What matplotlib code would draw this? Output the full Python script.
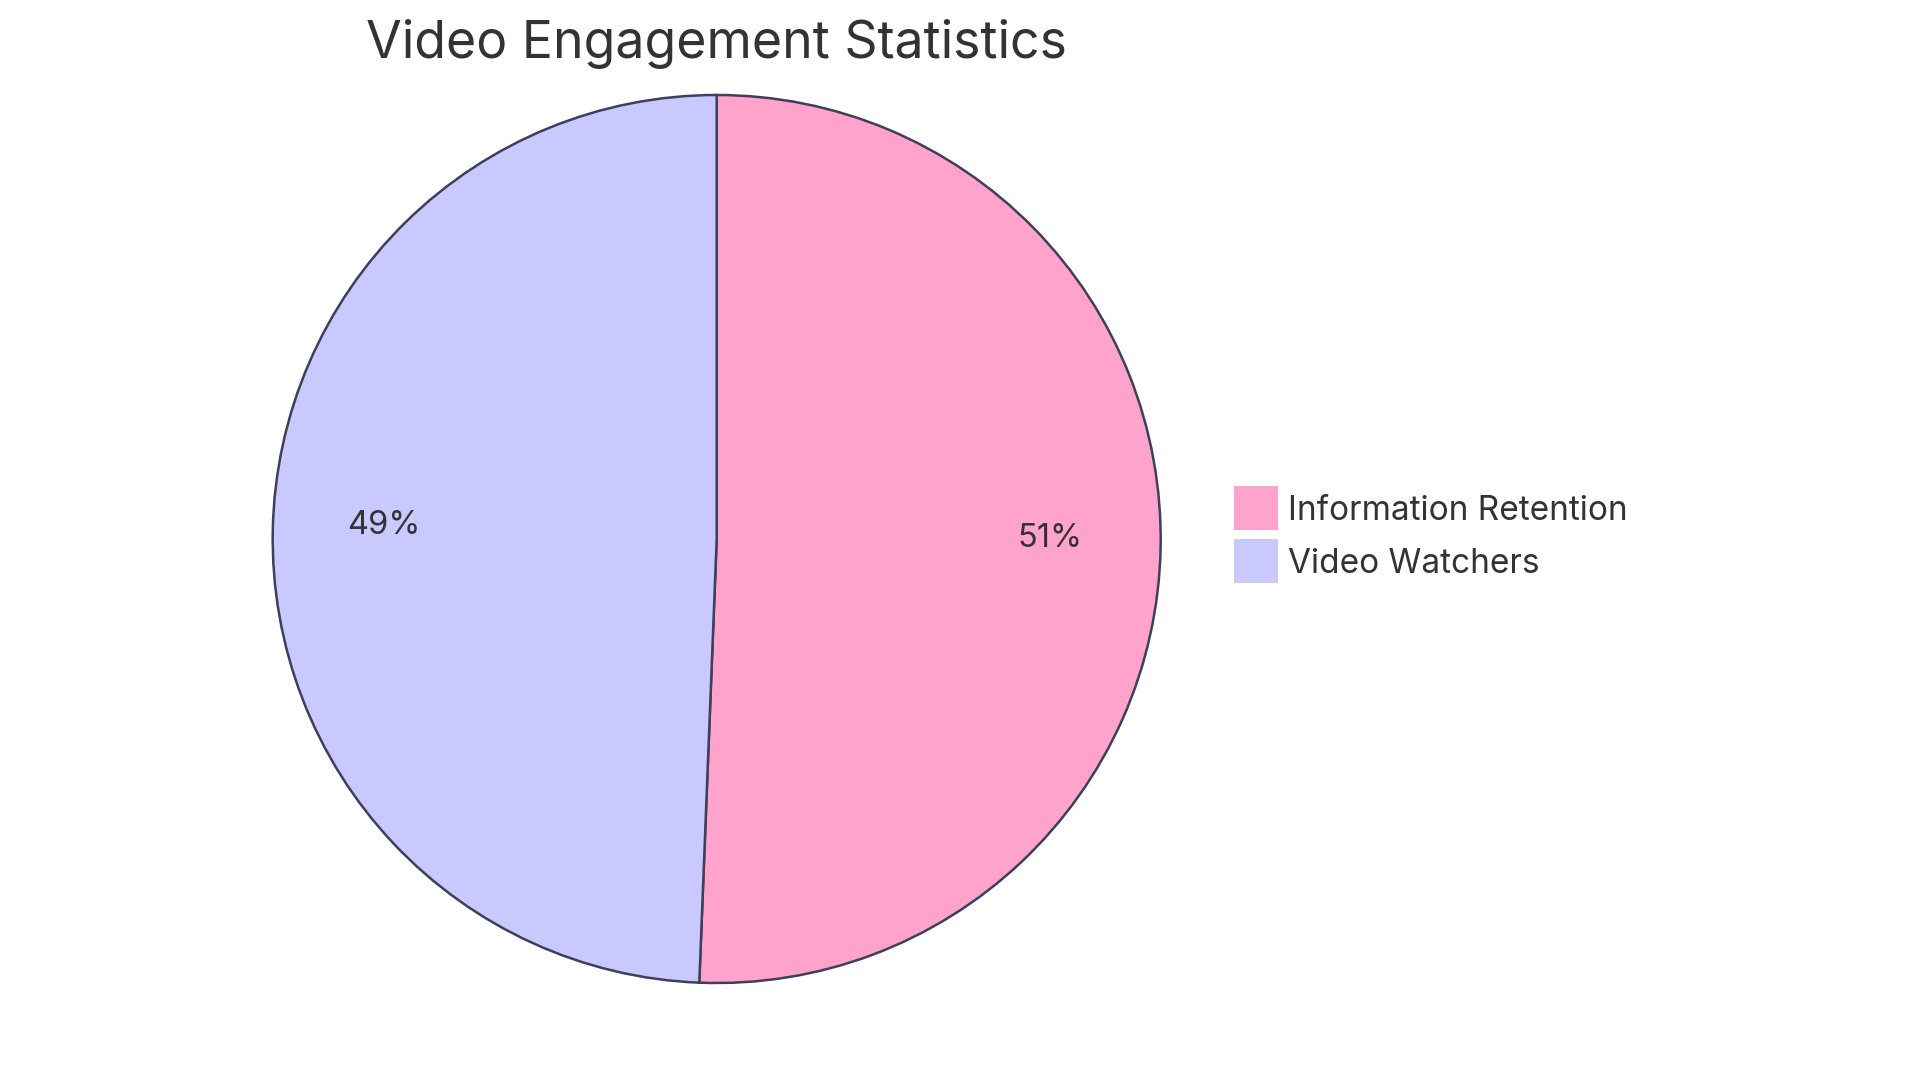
import matplotlib
matplotlib.use("Agg")
import matplotlib.pyplot as plt
from matplotlib.patches import Rectangle

plt.rcParams['font.family'] = ['Inter', 'DejaVu Sans']

# data
title = "Video Engagement Statistics"
labels = ["Information Retention", "Video Watchers"]
values = [81, 79]
colors = ["#FFA3CC", "#C9C9FF"]
edge_col = "#3D3F5C"
text_col = "#333333"

W, H = 1920, 1083
fig = plt.figure(figsize=(W / 100, H / 100), dpi=100)

# pie centre / radius in pixels
cx, cy, r = 716.7, 539, 444
ax = fig.add_axes([(cx - r) / W, (H - cy - r) / H, 2 * r / W, 2 * r / H])

wedges, texts, autotexts = ax.pie(
    values, colors=colors, startangle=90, counterclock=False,
    autopct=lambda p: f"{p:.0f}%", pctdistance=0.75, radius=1,
    wedgeprops=dict(edgecolor=edge_col, linewidth=1.8, clip_on=False),
    textprops=dict(color=text_col, fontsize=23.5))
for t in autotexts:
    x, y = t.get_position()
    t.set_position((x, y + 0.016))
ax.set_xlim(-1, 1)
ax.set_ylim(-1, 1)
ax.set_aspect("equal")
ax.axis("off")

fig.text(cx / W, 1 - 44 / H, title, ha="center", va="center",
         fontsize=37.3, color=text_col)

# legend drawn by hand
box = 44
for i, (lab, c) in enumerate(zip(labels, colors)):
    top = 486 + i * 53
    fig.patches.append(Rectangle((1234 / W, 1 - (top + box) / H), box / W, box / H,
                                 facecolor=c, edgecolor="none",
                                 transform=fig.transFigure, figure=fig))
    fig.text(1288 / W, 1 - (top + box / 2 + 3) / H, lab, ha="left", va="center",
             fontsize=24, color=text_col)

fig.savefig("out.png", dpi=100, facecolor="white")
